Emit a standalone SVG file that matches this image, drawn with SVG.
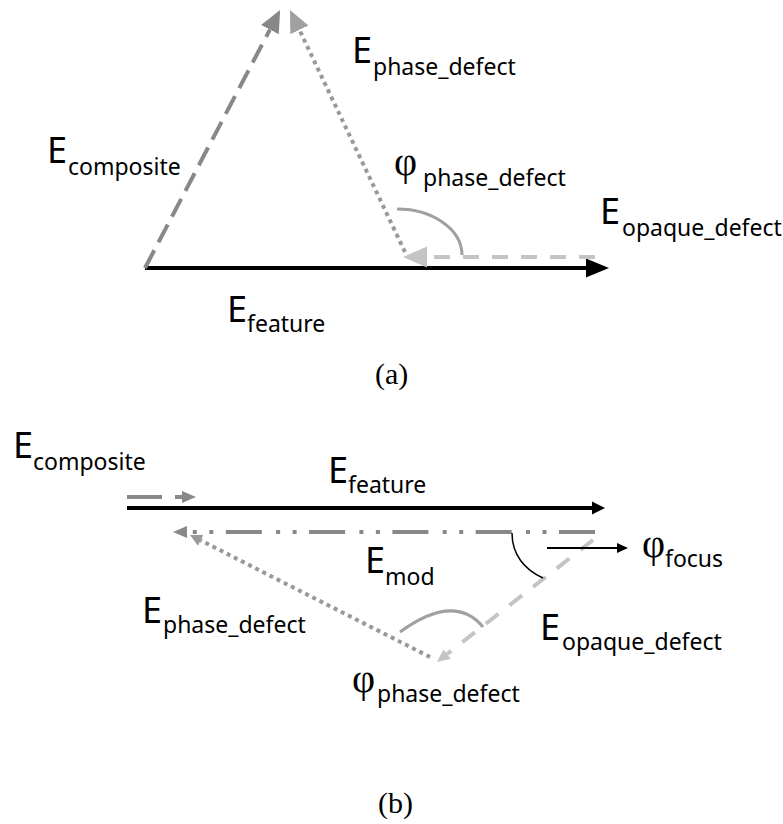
<svg xmlns="http://www.w3.org/2000/svg" width="783" height="824" viewBox="0 0 783 824">
<style>
.t{font-family:"Noto Sans","DejaVu Sans",sans-serif;font-size:36px;fill:#000}
.s{font-size:23px}
.phi{font-family:"Liberation Serif","Times New Roman",serif;font-size:40px}
.cap{font-family:"Liberation Serif","Times New Roman",serif;font-size:30px;fill:#000}
.ln{fill:none;stroke-width:4}
.blk{stroke:#000}
.comp{stroke:#888}
.phd{stroke:#999;stroke-dasharray:4 4}
.opq{stroke:#c4c4c4}
.arc{fill:none;stroke:#a0a0a0;stroke-width:3}
</style>
<defs>
<marker id="aBlkL" markerUnits="userSpaceOnUse" markerWidth="30" markerHeight="30" refX="0" refY="15" orient="auto" viewBox="0 0 30 30"><path d="M0,5.5 L23,15 L0,24.5 Z" fill="#000"/></marker>
<marker id="aCompL" markerUnits="userSpaceOnUse" markerWidth="30" markerHeight="30" refX="0" refY="15" orient="auto" viewBox="0 0 30 30"><path d="M0,5 L22,15 L0,25 Z" fill="#888"/></marker>
<marker id="aPhdL" markerUnits="userSpaceOnUse" markerWidth="30" markerHeight="30" refX="0" refY="15" orient="auto" viewBox="0 0 30 30"><path d="M0,5 L22,15 L0,25 Z" fill="#a0a0a0"/></marker>
<marker id="aOpqL" markerUnits="userSpaceOnUse" markerWidth="30" markerHeight="30" refX="0" refY="15" orient="auto" viewBox="0 0 30 30"><path d="M0,4.5 L24,15 L0,25.5 Z" fill="#c4c4c4"/></marker>
<marker id="aBlkS" markerUnits="userSpaceOnUse" markerWidth="20" markerHeight="20" refX="0" refY="10" orient="auto" viewBox="0 0 20 20"><path d="M0,3.5 L13,10 L0,16.5 Z" fill="#000"/></marker>
<marker id="aCompS" markerUnits="userSpaceOnUse" markerWidth="20" markerHeight="20" refX="0" refY="10" orient="auto" viewBox="0 0 20 20"><path d="M0,4 L14,10 L0,16 Z" fill="#888"/></marker>
<marker id="aPhdS" markerUnits="userSpaceOnUse" markerWidth="20" markerHeight="20" refX="0" refY="10" orient="auto" viewBox="0 0 20 20"><path d="M0,4 L12,10 L0,16 Z" fill="#999"/></marker>
<marker id="aOpqS" markerUnits="userSpaceOnUse" markerWidth="20" markerHeight="20" refX="0" refY="10" orient="auto" viewBox="0 0 20 20"><path d="M0,4 L13,10 L0,16 Z" fill="#c4c4c4"/></marker>
<marker id="aThin" markerUnits="userSpaceOnUse" markerWidth="20" markerHeight="20" refX="0" refY="10" orient="auto" viewBox="0 0 20 20"><path d="M0,5 L11,10 L0,15 Z" fill="#000"/></marker>
</defs>

<g id="connectors">
  <!-- (a) -->
  <line id="a-feature" class="ln blk" x1="145" y1="268" x2="586" y2="268" marker-end="url(#aBlkL)"/>
  <line id="a-composite" class="ln comp" x1="145" y1="268" x2="269.9" y2="29.6" stroke-dasharray="20 9" marker-end="url(#aCompL)"/>
  <line id="a-phase" class="ln phd" x1="405" y1="252" x2="299.4" y2="29.9" marker-end="url(#aPhdL)"/>
  <line id="a-opaque" class="ln opq" x1="595" y1="257" x2="427" y2="257" stroke-dasharray="16 13" marker-end="url(#aOpqL)"/>
  <path id="a-phi-arc" class="arc" d="M397,209 A65,46 0 0 1 462,255"/>
  <!-- (b) -->
  <line id="b-composite" class="ln comp" x1="127" y1="497" x2="182" y2="497" stroke-dasharray="35 13" marker-end="url(#aCompS)"/>
  <line id="b-feature" class="ln blk" x1="127" y1="508" x2="592" y2="508" marker-end="url(#aBlkS)"/>
  <line id="b-mod" class="ln comp" x1="595" y1="532" x2="187" y2="532" stroke-dasharray="36 12.5 4 12.5 4 14.3" marker-end="url(#aCompS)"/>
  <line id="b-phase" class="ln phd" x1="430" y1="657" x2="200.7" y2="540.4" marker-end="url(#aPhdS)"/>
  <line id="b-opaque" class="ln opq" x1="593" y1="540" x2="447.2" y2="654" stroke-dasharray="16 14" marker-end="url(#aOpqS)"/>
  <path id="b-phi-arc" class="arc" d="M400,632 Q454.5,592.5 483,627"/>
  <path id="b-focus-arc" d="M512,533 C512,555 525,570 543,578" fill="none" stroke="#000" stroke-width="1.5"/>
  <line id="b-focus-arrow" x1="547" y1="548" x2="617" y2="548" stroke="#000" stroke-width="2" marker-end="url(#aThin)"/>
</g>

<g id="label-a-composite"><text class="t" x="47" y="163">E<tspan class="s" x="68" y="175">composite</tspan></text></g>
<g id="label-a-phase"><text class="t" x="352" y="63">E<tspan class="s" x="373" y="75">phase_defect</tspan></text></g>
<g id="label-a-phi"><text class="t" x="394" y="175"><tspan class="phi">φ</tspan><tspan class="s" x="423" y="186">phase_defect</tspan></text></g>
<g id="label-a-opaque"><text class="t" x="600" y="224">E<tspan class="s" x="622" y="236">opaque_defect</tspan></text></g>
<g id="label-a-feature"><text class="t" x="227" y="322">E<tspan class="s" x="247" y="332">feature</tspan></text></g>
<g id="caption-a"><text class="cap" x="375" y="384">(a)</text></g>

<g id="label-b-composite"><text class="t" x="13" y="458">E<tspan class="s" x="33" y="470">composite</tspan></text></g>
<g id="label-b-feature"><text class="t" x="328" y="483">E<tspan class="s" x="348" y="493">feature</tspan></text></g>
<g id="label-b-mod"><text class="t" x="365" y="573">E<tspan class="s" x="385" y="585">mod</tspan></text></g>
<g id="label-b-focus"><text class="t" x="642" y="557"><tspan class="phi">φ</tspan><tspan class="s" x="665" y="567">focus</tspan></text></g>
<g id="label-b-phase"><text class="t" x="142" y="623">E<tspan class="s" x="163" y="633">phase_defect</tspan></text></g>
<g id="label-b-opaque"><text class="t" x="540" y="640">E<tspan class="s" x="562" y="650">opaque_defect</tspan></text></g>
<g id="label-b-phi"><text class="t" x="352" y="692"><tspan class="phi">φ</tspan><tspan class="s" x="377" y="702">phase_defect</tspan></text></g>
<g id="caption-b"><text class="cap" x="378" y="813">(b)</text></g>
</svg>
